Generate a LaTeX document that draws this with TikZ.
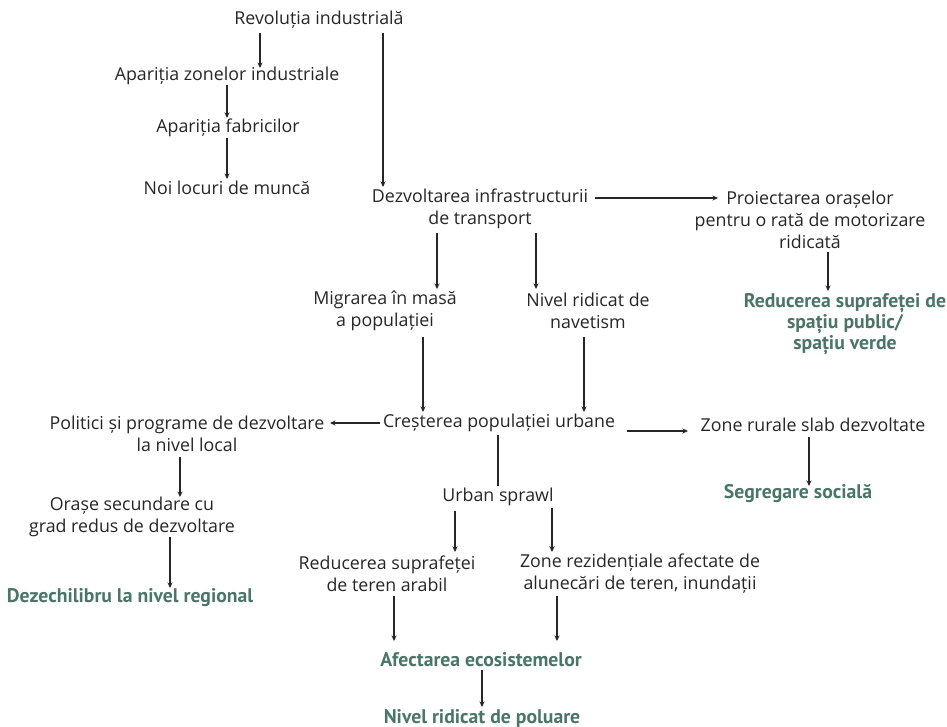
\documentclass[tikz,border=0pt]{standalone}
\usepackage{fontspec}
\setmainfont{Open Sans}
\newfontfamily\greenfont{PT Sans}
\usetikzlibrary{arrows.meta}
\definecolor{gtxt}{RGB}{74,117,104}
\tikzset{
  txt/.style={font=\fontsize{17.8}{22}\selectfont, align=center, inner sep=0pt, text=black!85},
  res/.style={font=\greenfont\bfseries\fontsize{19.7}{21}\selectfont, align=center, inner sep=0pt, text=gtxt},
  arr/.style={line width=1.1pt, draw=black!85, -{Stealth[length=5.5pt,width=5pt]}},
  arrb/.style={line width=1.6pt, draw=black!85, -{Stealth[length=6pt,width=5.5pt]}},
  ln/.style={line width=1.1pt, draw=black!85}
}
\begin{document}
\begin{tikzpicture}[x=1pt,y=-1pt]
\useasboundingbox (0,0) rectangle (947,727);
\node[txt] (rev) at (319,20) {Revoluția industrială};
\node[txt] (apz) at (227,76) {Apariția zonelor industriale};
\node[txt] (apf) at (228,128) {Apariția fabricilor};
\node[txt] (noi) at (227,188) {Noi locuri de muncă};
\node[txt] (dez) at (480,209) {Dezvoltarea infrastructurii\\de transport};
\node[txt] (pro) at (810,220) {Proiectarea orașelor\\pentru o rată de motorizare\\ridicată};
\node[res] (red1) at (845,324) {Reducerea suprafeței de\\spațiu public/\\spațiu verde};
\node[txt] (mig) at (385,311) {Migrarea în masă\\a populației};
\node[txt] (nav) at (588,311) {Nivel ridicat de\\navetism};
\node[txt] (cre) at (499,423) {Creșterea populației urbane};
\node[txt] (pol) at (187,434) {Politici și programe de dezvoltare\\la nivel local};
\node[txt] (zr) at (813,425) {Zone rurale slab dezvoltate};
\node[res] (seg) at (798,493) {Segregare socială};
\node[txt] (us) at (498,497) {Urban sprawl};
\node[txt] (ora) at (132,517) {Orașe secundare cu\\grad redus de dezvoltare};
\node[res] (dzc) at (130,598) {Dezechilibru la nivel regional};
\node[txt] (redt) at (387,574) {Reducerea suprafeței\\de teren arabil};
\node[txt] (zrez) at (640,574) {Zone rezidențiale afectate de\\alunecări de teren, inundații};
\node[res] (afe) at (481,660) {Afectarea ecosistemelor};
\node[res] (niv) at (482,718) {Nivel ridicat de poluare};

\draw[arr] ([shift={(-59,13)}]rev.center) -- ([shift={(33,-8)}]apz.center);
\draw[arr] ([shift={(64,13)}]rev.center) -- ([shift={(-97,-22)}]dez.center);
\draw[arr] ([shift={(0,9)}]apz.center) -- ([shift={(-1,-10)}]apf.center);
\draw[arr] ([shift={(-1,10)}]apf.center) -- ([shift={(0,-9)}]noi.center);
\draw[arr] ([shift={(115,-11)}]dez.center) -- ([shift={(-92,-22)}]pro.center);
\draw[arr] ([shift={(-43,24)}]dez.center) -- ([shift={(52,-22)}]mig.center);
\draw[arr] ([shift={(56,24)}]dez.center) -- ([shift={(-52,-22)}]nav.center);
\draw[arr] ([shift={(18,32)}]pro.center) -- ([shift={(-17,-33)}]red1.center);
\draw[arr] ([shift={(38,26)}]mig.center) -- ([shift={(-76,-11)}]cre.center);
\draw[arr] ([shift={(-4,26)}]nav.center) -- ([shift={(85,-11)}]cre.center);
\draw[arr] ([shift={(-119,0)}]cre.center) -- ([shift={(143,-11)}]pol.center);
\draw[arr] ([shift={(128,8)}]cre.center) -- ([shift={(-125,6)}]zr.center);
\draw[ln] ([shift={(-1,12)}]cre.center) -- ([shift={(0,-11)}]us.center);
\draw[arr] ([shift={(-7,23)}]pol.center) -- ([shift={(48,-20)}]ora.center);
\draw[arr] ([shift={(38,20)}]ora.center) -- ([shift={(40,-10)}]dzc.center);
\draw[arr] ([shift={(-4,12)}]zr.center) -- ([shift={(11,-7)}]seg.center);
\draw[arr] ([shift={(-43,14)}]us.center) -- ([shift={(68,-22)}]redt.center);
\draw[arrb] ([shift={(54,11)}]us.center) -- ([shift={(-88,-22)}]zrez.center);
\draw[arr] ([shift={(7,22)}]redt.center) -- ([shift={(-87,-19)}]afe.center);
\draw[arr] ([shift={(-83,22)}]zrez.center) -- ([shift={(76,-19)}]afe.center);
\draw[arr] ([shift={(1,10)}]afe.center) -- ([shift={(0,-11)}]niv.center);
\end{tikzpicture}
\end{document}
